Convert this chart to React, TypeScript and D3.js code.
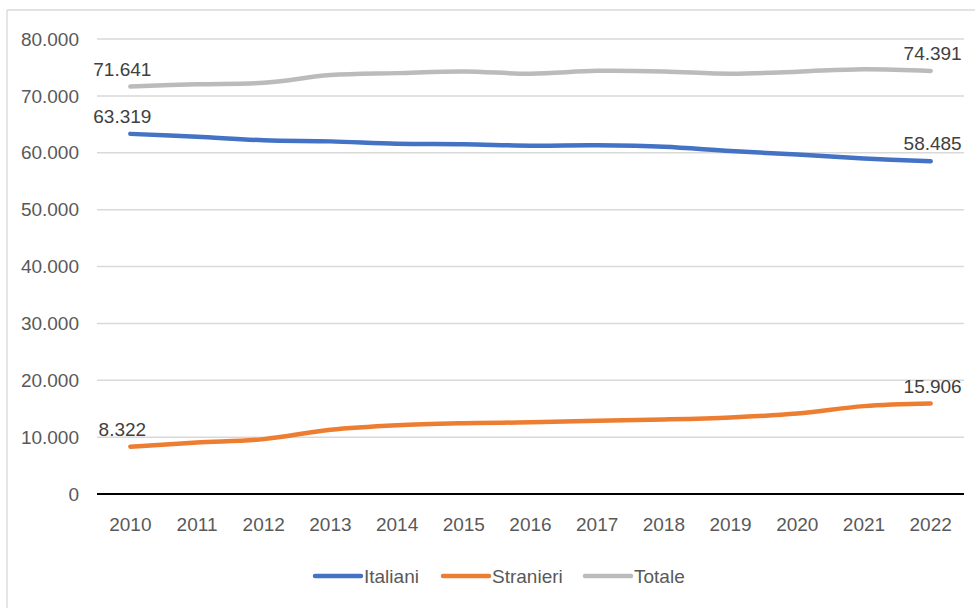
import React from "react";
import * as d3 from "d3";

const years = ["2010","2011","2012","2013","2014","2015","2016","2017","2018","2019","2020","2021","2022"];
const italiani = [63319, 62800, 62200, 62000, 61600, 61500, 61250, 61300, 61050, 60300, 59700, 59000, 58485];
const stranieri = [8322, 9050, 9650, 11300, 12100, 12450, 12600, 12900, 13100, 13450, 14150, 15450, 15906];
const totale = [71641, 72050, 72300, 73650, 74000, 74300, 73900, 74400, 74300, 73900, 74250, 74700, 74391];
const yTicks = [0, 10000, 20000, 30000, 40000, 50000, 60000, 70000, 80000];
const seriesNames = ["Italiani", "Stranieri", "Totale"];
const seriesColors = ["#4472C4", "#ED7D31", "#BBBBBB"];

const W = 975, H = 608;
const FONT = "'Liberation Sans', Arial, sans-serif";

const fmt = (v: number) => {
  if (v === 0) return "0";
  const s = Math.round(v).toString();
  return s.replace(/\B(?=(\d{3})+(?!\d))/g, ".");
};

export default function App() {
  const x = d3.scalePoint<string>().domain(years).range([97, 964]).padding(0.5);
  const y = d3.scaleLinear().domain([0, 80000]).range([494, 39]);
  const line = d3
    .line<number>()
    .x((_, i) => x(years[i]) as number)
    .y((d) => y(d))
    .curve(d3.curveCatmullRom.alpha(0.5));

  const series = [italiani, stranieri, totale];
  // draw order: Totale behind? Excel draws in series order
  const labelPairs = series.map((s, k) => ({ s, k }));

  const legendX = [315, 443, 585];

  return (
    <svg width={W} height={H} style={{ position: "absolute", left: 0, top: 0, background: "#fff" }} fontFamily={FONT}>
      <rect x={0} y={0} width={W} height={H} fill="#fff" />
      {/* frame */}
      <line x1={7} y1={10} x2={W} y2={10} stroke="#d9d9d9" strokeWidth={1.3} />
      <line x1={7} y1={10} x2={7} y2={H} stroke="#d9d9d9" strokeWidth={1.3} />
      {/* grid */}
      {yTicks.map((t) => (
        <g key={t}>
          {t !== 0 && (
            <line x1={97} x2={964} y1={y(t)} y2={y(t)} stroke="#d9d9d9" strokeWidth={1.5} />
          )}
          <text x={79} y={y(t)} dy="0.35em" textAnchor="end" fontSize={19} fill="#595959">
            {fmt(t)}
          </text>
        </g>
      ))}
      {/* x axis */}
      <line x1={97} x2={964} y1={y(0)} y2={y(0)} stroke="#000" strokeWidth={2} />
      {years.map((yr) => (
        <text key={yr} x={x(yr)} y={524} dy="0.35em" textAnchor="middle" fontSize={19} fill="#595959">
          {yr}
        </text>
      ))}
      {/* lines */}
      {series.map((s, k) => (
        <path
          key={k}
          d={line(s) || ""}
          fill="none"
          stroke={seriesColors[k]}
          strokeWidth={4.5}
          strokeLinecap="round"
          strokeLinejoin="round"
        />
      ))}
      {/* data labels */}
      {labelPairs.map(({ s, k }) => (
        <g key={"l" + k}>
          <text
            x={(x(years[0]) as number) - 8}
            y={y(s[0]) - 11}
            textAnchor="middle"
            fontSize={19}
            fill="#404040"
          >
            {fmt(s[0])}
          </text>
          <text
            x={(x(years[years.length - 1]) as number) + 2}
            y={y(s[s.length - 1]) - 11}
            textAnchor="middle"
            fontSize={19}
            fill="#404040"
          >
            {fmt(s[s.length - 1])}
          </text>
        </g>
      ))}
      {/* legend */}
      {seriesNames.map((n, k) => (
        <g key={n}>
          <line
            x1={legendX[k]}
            x2={legendX[k] + 46}
            y1={576}
            y2={576}
            stroke={seriesColors[k]}
            strokeWidth={4.5}
            strokeLinecap="round"
          />
          <text x={legendX[k] + 49} y={576} dy="0.35em" fontSize={19} fill="#595959">
            {n}
          </text>
        </g>
      ))}
    </svg>
  );
}
